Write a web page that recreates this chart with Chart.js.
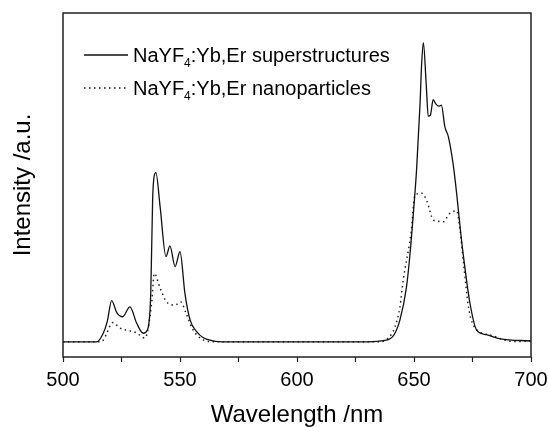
<!DOCTYPE html>
<html><head><meta charset="utf-8">
<script src="https://cdn.jsdelivr.net/npm/chart.js@4.4.0/dist/chart.umd.min.js"></script>
<style>html,body{margin:0;padding:0;background:#fff}#wrap{width:548px;height:427px}</style>
</head><body><div id="wrap"><canvas id="c" width="548" height="427"></canvas></div>
<script>
// Data (arbitrary intensity units, 0-100 = plot height)
const wavelengthsSuper = [500, 510, 514.4, 517.2, 518.9, 520.8, 523, 525.5, 528.6, 531.5, 534.3, 536, 537.5, 538.3, 538.9, 539.7, 541.5, 544, 545.7, 547.9, 550, 552.1, 554.3, 557.1, 560, 564, 570, 600, 630, 637.5, 641.3, 644, 646.8, 648.3, 650.4, 651.1, 652.6, 653.2, 654.0, 655.2, 656.1, 657, 658.2, 659.3, 660.7, 661.7, 663.2, 664.7, 666.7, 668.2, 669.7, 671, 673.9, 676.8, 680.9, 686.9, 700];
const intensitySuper = [4.4, 4.4, 4.4, 6.9, 10.3, 16.4, 12.9, 11.7, 14.6, 9.8, 6.9, 7.8, 18.5, 45.6, 52.4, 53.6, 43.7, 29.2, 32.3, 26.3, 30.6, 18.5, 10.8, 7.4, 5.6, 4.7, 4.4, 4.4, 4.4, 4.8, 6.3, 10.8, 20.4, 30, 47.7, 54.4, 73.8, 84.3, 91.4, 79.5, 70, 70.3, 74.8, 73.6, 72.9, 73.2, 66.9, 64, 56.2, 47.7, 37.8, 30, 15.7, 7.8, 6.5, 5.3, 4.65];
const wavelengthsNano = [500, 510, 515, 517.2, 518.7, 521.2, 524.4, 527.2, 531.5, 535, 537.9, 539, 541.5, 544.3, 547.9, 550.3, 552.6, 555.3, 559.8, 565, 600, 635, 639, 641.9, 644, 645.4, 648.7, 650.4, 653.3, 655.4, 658.3, 660, 662.5, 665.2, 668.2, 669.7, 671.2, 673.4, 676.4, 682.5, 692.4, 700];
const intensityNano = [4.4, 4.4, 4.4, 4.9, 6.9, 10, 8.4, 7.8, 7, 5.5, 15.7, 24.3, 20, 16, 15.1, 16, 12.7, 8.2, 5, 4.4, 4.4, 4.4, 5.5, 8.8, 14.6, 22.4, 35.9, 47, 47.6, 45.5, 39.8, 39.5, 39.3, 41.7, 42.5, 36.8, 27.1, 14, 8.2, 6.4, 4.5, 4.6];
const xTickLabels = [500, 550, 600, 650, 700];
const legendNames = ['NaYF|4|:Yb,Er superstructures', 'NaYF|4|:Yb,Er nanoparticles'];

const FONT = '"Liberation Sans", Arial, Helvetica, sans-serif';

function toPoints(xs, ys) { return xs.map((x, i) => ({x: x, y: ys[i]})); }

const framePlugin = {
  id: 'frame',
  afterDatasetsDraw(chart) {
    const {ctx, chartArea: a} = chart;
    ctx.save();
    ctx.strokeStyle = '#222';
    ctx.lineWidth = 1.5;
    ctx.strokeRect(a.left, a.top, a.right - a.left, a.bottom - a.top);
    ctx.restore();
  }
};

const legendPlugin = {
  id: 'subLegend',
  afterDraw(chart) {
    const ctx = chart.ctx;
    const rows = [{y: 55, dash: []}, {y: 88, dash: [1.5, 3.5]}];
    ctx.save();
    rows.forEach((r, i) => {
      ctx.strokeStyle = '#111';
      ctx.lineWidth = i === 0 ? 1.3 : 1.5;
      ctx.setLineDash(r.dash);
      ctx.beginPath();
      ctx.moveTo(84, r.y);
      ctx.lineTo(128, r.y);
      ctx.stroke();
      ctx.setLineDash([]);
      const parts = legendNames[i].split('|');
      let x = 133;
      const base = r.y + 7;
      ctx.fillStyle = '#000';
      ctx.textBaseline = 'alphabetic';
      ctx.textAlign = 'left';
      ctx.font = '20px ' + FONT;
      ctx.fillText(parts[0], x, base); x += ctx.measureText(parts[0]).width;
      ctx.font = '12px ' + FONT;
      ctx.fillText(parts[1], x, base + 5); x += ctx.measureText(parts[1]).width;
      ctx.font = '20px ' + FONT;
      ctx.fillText(parts[2], x, base);
    });
    ctx.restore();
  }
};

new Chart(document.getElementById('c'), {
  type: 'line',
  data: {
    datasets: [
      {label: 'superstructures', data: toPoints(wavelengthsSuper, intensitySuper), borderColor: '#111', borderWidth: 1.3, pointRadius: 0, cubicInterpolationMode: 'monotone', fill: false},
      {label: 'nanoparticles', data: toPoints(wavelengthsNano, intensityNano), borderColor: '#222', borderWidth: 1.5, borderDash: [1.5, 3.5], pointRadius: 0, cubicInterpolationMode: 'monotone', fill: false}
    ]
  },
  options: {
    responsive: false,
    animation: false,
    devicePixelRatio: 1,
    layout: {padding: {top: 13, right: 17, left: 0, bottom: 0}},
    plugins: {legend: {display: false}, tooltip: {enabled: false}},
    scales: {
      x: {
        type: 'linear', min: 500, max: 700,
        afterFit: s => { s.height = 70; s.paddingRight = 0; s.paddingLeft = 0; },
        afterBuildTicks: s => { const t = []; for (let v = 500; v <= 700; v += 25) t.push({value: v}); s.ticks = t; },
        ticks: {
          autoSkip: false, maxRotation: 0, padding: 6, color: '#000',
          font: {family: FONT, size: 20},
          callback: v => xTickLabels.includes(v) ? String(v) : ''
        },
        grid: {display: true, drawOnChartArea: false, drawTicks: true, tickLength: 5, tickColor: '#222', tickWidth: 1.2},
        border: {display: false},
        title: {display: true, text: 'Wavelength /nm', color: '#000', font: {family: FONT, size: 24, lineHeight: 1}, padding: {top: 0, bottom: 0}}
      },
      y: {
        min: 0, max: 100,
        afterFit: s => { s.width = 63; s.paddingTop = 0; s.paddingBottom = 0; },
        ticks: {display: false},
        grid: {display: false},
        border: {display: false},
        title: {display: true, text: 'Intensity /a.u.', color: '#000', font: {family: FONT, size: 24, lineHeight: 1}, padding: {top: 11, bottom: 0}}
      }
    }
  },
  plugins: [framePlugin, legendPlugin]
});
</script>
</body></html>
